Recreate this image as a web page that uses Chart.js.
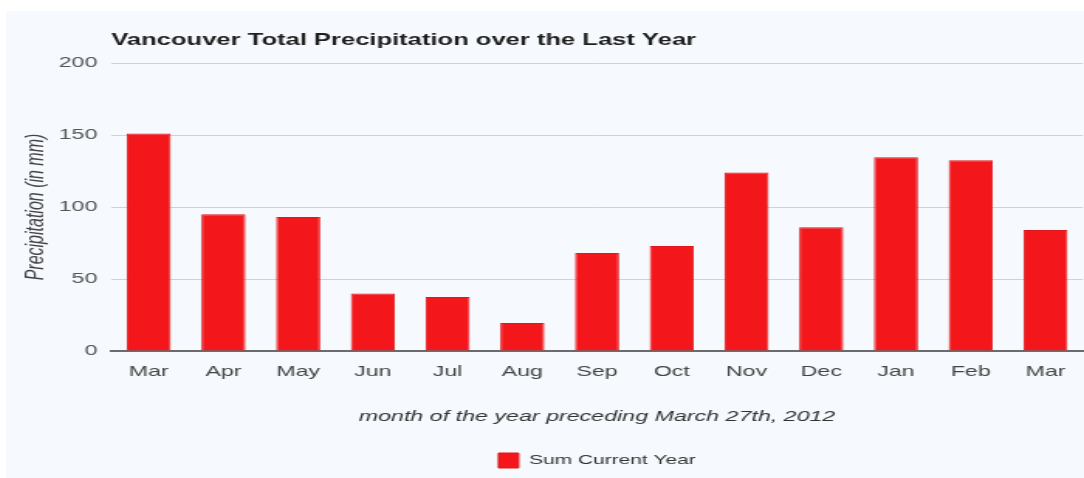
<!DOCTYPE html>
<html>
<head>
<meta charset="utf-8">
<script src="https://cdn.jsdelivr.net/npm/chart.js@4"></script>
<style>
  html, body { margin: 0; padding: 0; background: #ffffff; overflow: hidden; }
  #wrap {
    position: absolute; left: 6px; top: 11px;
    width: 1078px; height: 467px;
    background: #f6f9fd;
    overflow: hidden;
  }
  /* la imagen original esta estirada en horizontal: se estira el lienzo igual */
  #rainChart {
    display: block;
    transform-origin: 0 0;
    transform: scaleX(1.5489);
  }
</style>
</head>
<body>
<div id="wrap"><canvas id="rainChart" width="696" height="467"></canvas></div>
<script>
// data
const months = ['Mar','Apr','May','Jun','Jul','Aug','Sep','Oct','Nov','Dec','Jan','Feb','Mar'];
const precipitation = [151, 95, 93, 40, 37.5, 19.5, 68, 73, 124, 86, 134.5, 132.5, 84];
const yTicks = [0, 50, 100, 150, 200];

const chartTitle = 'Vancouver Total Precipitation over the Last Year';
const seriesName = 'Sum Current Year';

// fuente base
Chart.defaults.font.family = '"Liberation Sans", Arial, sans-serif';
Chart.defaults.color = '#555';

// titulo alineado con el borde izquierdo del area de la grafica
const titlePlugin = {
  id: 'leftTitle',
  afterDraw(chart) {
    const ctx = chart.ctx;
    ctx.save();
    ctx.font = 'bold 16.5px "Liberation Sans", Arial, sans-serif';
    ctx.fillStyle = '#1e1e1e';
    ctx.textAlign = 'left';
    ctx.textBaseline = 'middle';
    ctx.fillText(chartTitle, chart.chartArea.left, 29);
    ctx.restore();
  }
};

const ctx = document.getElementById('rainChart').getContext('2d');
const rainChart = new Chart(ctx, {
  type: 'bar',
  data: {
    labels: months,
    datasets: [{
      label: seriesName,
      data: precipitation,
      backgroundColor: '#f3171c',
      borderColor: '#e0181d',
      borderWidth: 1,
      barPercentage: 0.59,
      categoryPercentage: 1.0
    }]
  },
  options: {
    responsive: false,
    animation: false,
    layout: { padding: { top: 52, right: 0, bottom: 0, left: 0 } },
    scales: {
      x: {
        grid: { display: false, drawTicks: false },
        border: { display: true, color: '#6b6b6b', width: 2 },
        ticks: { color: '#444', font: { size: 15 }, padding: 12 },
        title: {
          display: true,
          text: 'month of the year preceding March 27th, 2012',
          color: '#333',
          font: { size: 15, style: 'italic' },
          padding: { top: 15, bottom: 18 }
        }
      },
      y: {
        min: 0,
        max: 200,
        afterBuildTicks: scale => { scale.ticks = yTicks.map(v => ({ value: v })); },
        afterFit: scale => { scale.width = 68; },
        grid: { color: '#cfd3d8', drawTicks: false },
        border: { display: false },
        ticks: { color: '#555', font: { size: 15 }, padding: 9 },
        title: {
          display: true,
          text: 'Precipitation (in mm)',
          color: '#444',
          font: { size: 16, style: 'italic' },
          padding: { top: 10, bottom: 0 }
        }
      }
    },
    plugins: {
      legend: {
        position: 'bottom',
        fullSize: false,
        labels: { boxWidth: 13, boxHeight: 15, padding: 9, color: '#333', font: { size: 13.5 } }
      },
      tooltip: { enabled: false }
    }
  },
  plugins: [titlePlugin]
});
</script>
</body>
</html>
